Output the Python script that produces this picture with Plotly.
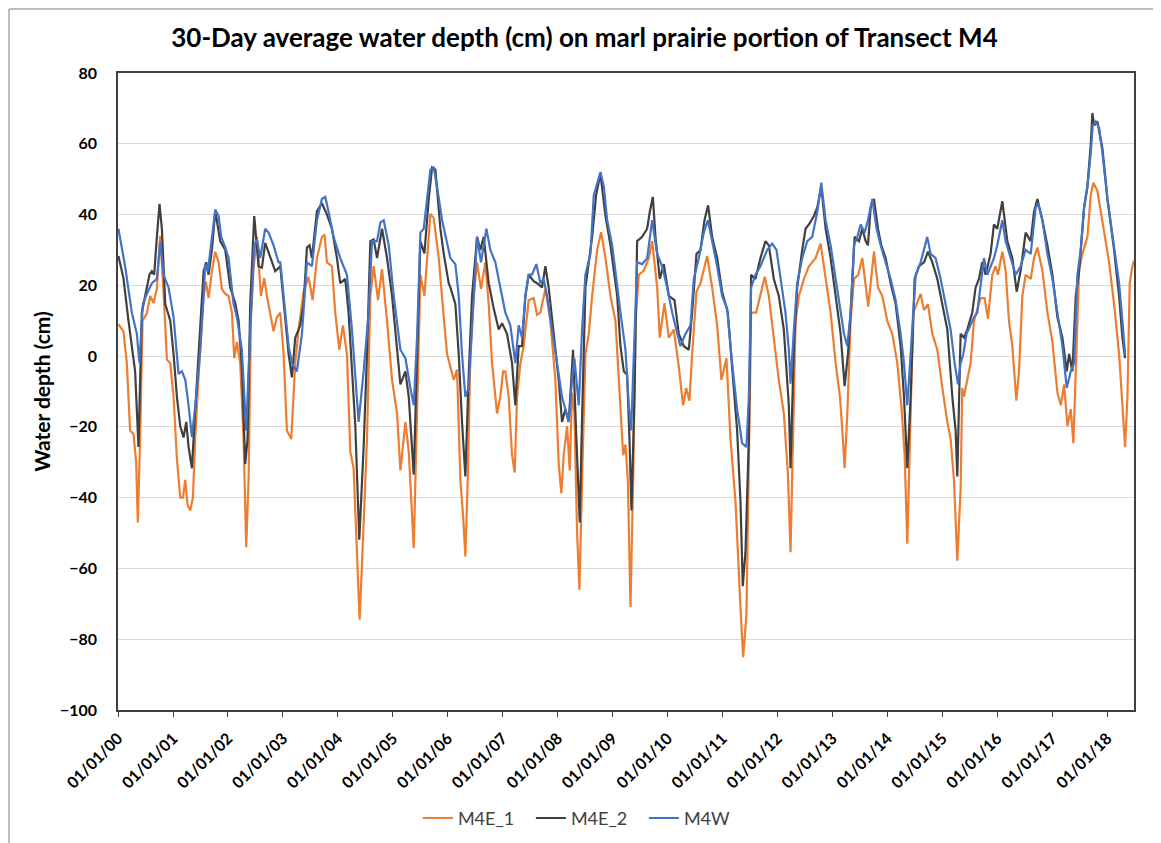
import pandas as pd
import plotly.graph_objects as go

# ---------------- data (decimal years since 2000, water depth in cm) ----------------
m4e1_t = [0.008, 0.099, 0.160, 0.220, 0.281, 0.330, 0.360, 0.402, 0.445, 0.524, 0.584, 0.645, 0.706, 0.767,
          0.827, 0.888, 0.949, 1.009, 1.070, 1.131, 1.179, 1.222, 1.264, 1.313, 1.361, 1.404, 1.465, 1.556,
          1.598, 1.647, 1.707, 1.768, 1.829, 1.889, 1.950, 2.011, 2.072, 2.114, 2.163, 2.223, 2.284, 2.332,
          2.375, 2.417, 2.466, 2.527, 2.600, 2.660, 2.709, 2.770, 2.830, 2.891,
          2.952, 3.013, 3.073, 3.152, 3.225, 3.286, 3.377, 3.468, 3.541, 3.620, 3.711, 3.759, 3.802, 3.893,
          3.953, 4.026, 4.093, 4.166, 4.227, 4.287, 4.348, 4.396, 4.439, 4.530, 4.591, 4.651, 4.730, 4.803,
          4.894, 4.985, 5.076, 5.137, 5.228, 5.289, 5.380, 5.440, 5.501, 5.574, 5.623, 5.683, 5.744, 5.835,
          5.926, 5.987,
          6.047, 6.108, 6.168, 6.229, 6.278, 6.320, 6.363, 6.411, 6.472, 6.533, 6.605, 6.684, 6.745, 6.806,
          6.897, 6.957, 7.006, 7.048, 7.109, 7.170, 7.218, 7.261, 7.322, 7.382, 7.473, 7.564, 7.625, 7.686,
          7.777, 7.868, 7.959, 8.020, 8.068, 8.111, 8.171, 8.220, 8.262, 8.305, 8.353, 8.396, 8.444, 8.505,
          8.566, 8.627, 8.718, 8.790, 8.869, 8.960, 9.051,
          9.142, 9.191, 9.233, 9.276, 9.324, 9.373, 9.415, 9.476, 9.567, 9.658, 9.719, 9.810, 9.858, 9.943,
          10.022, 10.113, 10.204, 10.283, 10.338, 10.398, 10.447, 10.526, 10.599, 10.720, 10.811, 10.902,
          10.981, 11.072, 11.145, 11.236, 11.327, 11.375, 11.436, 11.479, 11.521, 11.612, 11.691, 11.770,
          11.843, 11.934, 12.025, 12.116, 12.189,
          12.238, 12.287, 12.329, 12.390, 12.481, 12.572, 12.693, 12.784, 12.875, 12.966, 13.057, 13.136,
          13.179, 13.221, 13.270, 13.330, 13.391, 13.470, 13.543, 13.604, 13.652, 13.695, 13.755, 13.828,
          13.907, 13.998, 14.089, 14.180, 14.259, 14.314, 14.362, 14.411, 14.471, 14.532, 14.605, 14.666,
          14.739, 14.818, 14.909, 15.000, 15.091, 15.151, 15.212, 15.273,
          15.333, 15.363, 15.394, 15.454, 15.515, 15.576, 15.636, 15.697, 15.770, 15.831, 15.910, 15.970,
          16.013, 16.092, 16.152, 16.213, 16.274, 16.347, 16.395, 16.456, 16.516, 16.608, 16.668, 16.729,
          16.820, 16.911, 17.002, 17.093, 17.154, 17.215, 17.275, 17.336, 17.384, 17.427, 17.488, 17.548,
          17.639, 17.700, 17.749, 17.821, 17.913, 18.034, 18.125, 18.216, 18.277, 18.325, 18.368, 18.410,
          18.459, 18.489]
m4e1_v = [9, 7, -2, -21, -22, -30, -47, -23, 10, 12, 17, 15, 19, 34,
          18, -1, -2, -11.5, -29, -40, -40, -35, -42, -43.6, -40, -23, -5.5, 17,
          21, 16.4, 24, 29.5, 26.5, 19, 17.6, 17, 12.3, -0.6, 4, -2, -23.4, -54,
          -35, 10, 25, 33.7, 17, 22, 17, 12.3, 7, 11,
          12.3, 0.6, -21, -23.4, -2, 7.5, 18.2, 22.4, 15.8, 27.7, 33.7, 34.3, 26.5, 25.4,
          12.3, 1.8, 8.7, 0.6, -27, -31.7, -53, -74.5, -59, -23.4, 17, 25.4, 15.8, 24.6,
          9.9, -6.7, -16.2, -32.3, -18.6, -27, -54.3, -11.5, 23, 17, 28.9, 40.2, 39, 27.7,
          11, 0.6,
          -3, -6.7, -3.8, -35, -45, -56.6, -35, 0.6, 17, 26.5, 19, 26.5, 14.7, -2,
          -16.2, -11.5, -4.3, -4.3, -11.5, -28, -32.9, -11.5, -2, 2.8, 15.8, 16.4, 11.7, 12.3,
          19, 9.9, -6.7, -30.5, -38.8, -28, -19.8, -32.3, -10.3, -16.2, -49.5, -66, -35, 0.6,
          6.3, 17, 30, 35, 27.7, 17, 9.9,
          -14, -28, -25, -35, -70.9, -35, 9.9, 23, 24.2, 27.7, 32.5, 19.4, 5.2, 15,
          5.2, 7.5, -3, -13.9, -9, -12.6, 0.6, 18.2, 20.6, 28.3, 19.4, 8.7,
          -6.7, -0.6, -23.4, -41, -70.9, -85.1, -73, -35, 12.3, 12.3, 17, 22.4,
          17, 5.2, -6.7, -16.2, -32.9,
          -55.4, -23.4, 9.9, 17, 21.8, 25.4, 27.7, 31.8, 21.8, 12.3, -2, -11.5,
          -21, -31.7, -16.2, 9.9, 21.8, 23, 27.7, 19.4, 14, 20.6, 29.5, 19.4,
          17, 9.9, 6.3, -2, -15, -28, -53, -23.4, 12.3, 14.7, 17.6, 13,
          14.7, 6.3, 1.8, -9, -18.6, -23.4, -35, -57.8,
          -37.6, -9, -11.5, -6.7, -2, 9.9, 13.5, 16.4, 16.4, 10.5, 23, 25.4,
          23, 29.5, 24.2, 9.9, 2.8, -12.6, -4.3, 17, 23, 21.8, 27.7, 30.7,
          24.2, 12.3, 4.1, -10.3, -13.9, -8, -19.8, -15, -24.6, -6.7, 24.2, 28.9,
          33.7, 45.5, 49, 46.7, 38.4, 26.5, 14.7, 0.6, -13.9, -25.7, -11.5, 20.6,
          25.4, 27]

m4e2_t = [0.008, 0.099, 0.190, 0.251, 0.311, 0.372, 0.433, 0.493, 0.572, 0.615, 0.657, 0.706, 0.754, 0.797,
          0.858, 0.949, 1.009, 1.070, 1.131, 1.191, 1.240, 1.283, 1.343, 1.404, 1.465, 1.556, 1.604, 1.647,
          1.707, 1.768, 1.859, 1.950, 2.041, 2.132, 2.193, 2.253, 2.314, 2.357, 2.405, 2.478, 2.557, 2.618,
          2.678, 2.770, 2.861,
          2.952, 3.013, 3.104, 3.164, 3.225, 3.316, 3.377, 3.438, 3.486, 3.529, 3.620, 3.711, 3.802, 3.893,
          3.984, 4.044, 4.135, 4.196, 4.257, 4.318, 4.390, 4.469, 4.530, 4.591, 4.651, 4.712, 4.803, 4.894,
          4.985, 5.076, 5.137, 5.228, 5.289, 5.380, 5.440, 5.501, 5.574, 5.653, 5.714, 5.774, 5.865, 5.926,
          6.017,
          6.047, 6.138, 6.199, 6.259, 6.320, 6.381, 6.442, 6.533, 6.593, 6.654, 6.745, 6.836, 6.927, 6.988,
          7.079, 7.170, 7.230, 7.291, 7.352, 7.413, 7.473, 7.564, 7.625, 7.716, 7.777, 7.837, 7.929, 8.020,
          8.080, 8.141, 8.202, 8.280, 8.341, 8.402, 8.444, 8.505, 8.566, 8.627, 8.699, 8.778, 8.869, 8.960,
          9.082,
          9.142, 9.203, 9.263, 9.306, 9.342, 9.397, 9.445, 9.537, 9.628, 9.676, 9.731, 9.779, 9.858, 9.931,
          10.022, 10.125, 10.204, 10.295, 10.386, 10.447, 10.526, 10.599, 10.671, 10.738, 10.811, 10.902,
          10.993, 11.096, 11.175, 11.266, 11.327, 11.369, 11.418, 11.479, 11.521, 11.600, 11.691, 11.782,
          11.843, 11.934, 12.025, 12.116, 12.207,
          12.238, 12.299, 12.359, 12.450, 12.511, 12.572, 12.663, 12.724, 12.796, 12.875, 12.966, 13.057,
          13.148, 13.221, 13.282, 13.330, 13.403, 13.482, 13.543, 13.604, 13.646, 13.695, 13.755, 13.828,
          13.889, 13.968, 14.059, 14.150, 14.241, 14.302, 14.362, 14.423, 14.496, 14.575, 14.666, 14.739,
          14.818, 14.909, 15.000, 15.091, 15.182, 15.242, 15.273, 15.303,
          15.333, 15.394, 15.454, 15.545, 15.606, 15.667, 15.727, 15.788, 15.879, 15.940, 16.001, 16.092,
          16.183, 16.274, 16.353, 16.425, 16.516, 16.608, 16.668, 16.729, 16.820, 16.911, 17.002, 17.093,
          17.184, 17.263, 17.306, 17.366, 17.427, 17.488, 17.579, 17.639, 17.700, 17.730, 17.761, 17.821,
          17.913, 18.004, 18.125, 18.216, 18.277, 18.325]
m4e2_v = [28.3, 22, 10, 2, -4.3, -25.7, 12.3, 17, 23, 24, 23, 33.7, 43, 36,
          14.7, 10, 0.6, -11.5, -19.8, -23, -18.6, -25.7, -31.7, -15, 0.6, 24, 26.5, 23,
          30, 41, 32.5, 30, 19.4, 15, 10, -3, -30.5, -23.4, 14.7, 39.6, 25.4, 25,
          32, 28, 24,
          25.4, 15.8, 0.6, -6, 5.2, 8.7, 14.7, 30.7, 31.3, 27.7, 41, 43.2, 40, 36,
          27.7, 20.6, 21.8, 12.3, -4.3, -19.8, -51.9, -25.7, 0.6, 32.5, 33, 27.7, 36, 27.7,
          17, 2.8, -8, -4.3, -11.5, -33.5, 0.6, 32.5, 29, 44.4, 53.3, 52.7, 36, 28.9,
          20.6,
          19.4, 14.7, 0.6, -18.6, -34, -5.3, 17, 33.7, 30, 33.7, 20.6, 13.5, 7.5, 9.3,
          6.3, -2, -13.9, 2.8, 2.8, 17, 23, 21.2, 20.6, 19.4, 25.4, 19.4, 6.3, -6.7,
          -18.6, -15, -18.6, 1.8, -23.4, -47, -17.3, 19.4, 26.5, 33.7, 45.5, 51.5, 39.6, 31.3,
          17,
          2.8, -4.3, -5.3, -23.4, -43.6, -11.5, 32.5, 33.7, 36, 40.8, 45, 33.7, 21.8, 26,
          17, 15.8, 6.3, 2.8, 1.8, 12.3, 28.9, 30, 38.4, 42.6, 33.7, 27.7,
          18.2, 12.3, -3, -21, -41, -65, -55.4, -23.4, 23, 21.8, 27.7, 32.5,
          31.3, 21.8, 17, 7.5, -13.9,
          -31.7, 2.8, 19.4, 30, 36, 37.2, 39.6, 42, 47.9, 36, 27.7, 17,
          6.3, -8.5, 0.6, 12.3, 33.7, 32.5, 36, 32.5, 31.3, 42, 44.4, 36,
          31.3, 27.7, 20.6, 14.7, 2.8, -11.5, -31.7, -11.5, 21.8, 25.4, 26.5, 29.5,
          26.5, 21.8, 14.7, 7.5, -11.5, -21, -34, -11.5,
          6.3, 5.2, 7.5, 12.3, 19.4, 21.8, 26.5, 23, 28.9, 37.2, 36, 43.8,
          32.5, 27.7, 18.2, 24.2, 34.9, 32.5, 40.8, 44.4, 38.4, 31.3, 23, 11,
          5.2, -4.3, 0.6, -4.3, 17, 24.2, 42, 47.9, 59.8, 68.7, 65.2, 66.3,
          58.6, 44.4, 30, 17, 5.2, -0.6]

m4w_t = [0.008, 0.129, 0.251, 0.342, 0.390, 0.451, 0.524, 0.615, 0.706, 0.767, 0.827, 0.918, 1.009, 1.100,
         1.161, 1.222, 1.283, 1.343, 1.422, 1.495, 1.556, 1.586, 1.635, 1.707, 1.768, 1.829, 1.877, 1.950,
         2.011, 2.102, 2.163, 2.253, 2.332, 2.405, 2.478, 2.527, 2.587, 2.678, 2.739, 2.830, 2.921,
         2.952, 3.013, 3.104, 3.164, 3.255, 3.347, 3.438, 3.529, 3.620, 3.711, 3.771, 3.832, 3.923, 4.044,
         4.166, 4.257, 4.378, 4.469, 4.560, 4.621, 4.712, 4.773, 4.834, 4.925, 5.016, 5.137, 5.228, 5.319,
         5.380, 5.440, 5.501, 5.562, 5.623, 5.683, 5.744, 5.805, 5.896, 5.987,
         6.047, 6.138, 6.199, 6.259, 6.320, 6.381, 6.442, 6.533, 6.605, 6.703, 6.775, 6.866, 6.957, 7.048,
         7.139, 7.230, 7.291, 7.352, 7.413, 7.473, 7.534, 7.613, 7.686, 7.746, 7.807, 7.898, 7.989, 8.080,
         8.141, 8.202, 8.262, 8.305, 8.384, 8.444, 8.505, 8.596, 8.657, 8.718, 8.778, 8.839, 8.900, 8.991,
         9.082,
         9.142, 9.233, 9.294, 9.336, 9.385, 9.445, 9.537, 9.628, 9.719, 9.810, 9.901, 9.992, 10.083, 10.174,
         10.234, 10.326, 10.417, 10.477, 10.568, 10.659, 10.732, 10.811, 10.902, 10.993, 11.084, 11.175,
         11.266, 11.357, 11.436, 11.479, 11.521, 11.600, 11.691, 11.813, 11.904, 11.983, 12.055, 12.146,
         12.207,
         12.238, 12.299, 12.359, 12.450, 12.541, 12.632, 12.724, 12.796, 12.875, 12.966, 13.057, 13.148,
         13.209, 13.270, 13.330, 13.391, 13.452, 13.513, 13.585, 13.646, 13.725, 13.804, 13.877, 13.968,
         14.059, 14.150, 14.241, 14.302, 14.362, 14.423, 14.514, 14.605, 14.696, 14.726, 14.787, 14.878,
         14.969, 15.060, 15.151, 15.224, 15.285,
         15.333, 15.382, 15.442, 15.515, 15.576, 15.636, 15.697, 15.758, 15.819, 15.879, 15.940, 16.001,
         16.092, 16.152, 16.243, 16.334, 16.425, 16.516, 16.608, 16.699, 16.741, 16.820, 16.911, 17.002,
         17.093, 17.184, 17.263, 17.336, 17.397, 17.457, 17.518, 17.579, 17.639, 17.700, 17.736, 17.791,
         17.852, 17.913, 18.004, 18.125, 18.216, 18.277, 18.325]
m4w_v = [36, 25.4, 12.3, 6.3, -2, 14.7, 17.6, 20.6, 21.8, 32.5, 23, 19.4, 11, -5,
         -4.3, -6.7, -14, -22.8, -11.5, 1.8, 17, 26, 24, 33.7, 41.4, 39.6, 33.7, 30.7,
         27.7, 14.7, 11, 1.8, -21, 7.5, 31.3, 33, 27.7, 36, 34.9, 31.3, 26.5,
         26.5, 17, 2.8, -2, -4.3, 6.3, 26.5, 25.4, 38.4, 44.4, 45, 40.8, 33.7, 27.7,
         23, 7.5, -18.6, -4.3, 12.3, 32.5, 32.5, 37.8, 38.4, 31.3, 17, 1.8, -0.6, -9,
         -13.9, 5.2, 34.9, 36, 44.4, 52.7, 53.3, 47.9, 38.4, 31.3,
         27.7, 26, 17, 0.6, -11.5, -9, 7.5, 33.7, 26.5, 36, 30, 26.5, 19.4, 12.3,
         8.7, -2, 8.7, 5.2, 17, 23, 23, 26, 20.6, 21.8, 17, 7.5, -3, -11.5,
         -15, -18.6, -6.7, -0.6, -13.9, 7.5, 23, 28.9, 45.5, 49, 52, 47.9, 38.4, 31.3,
         19.4,
         12.3, 1.8, -13.9, -21, 0.6, 26.5, 26, 27.7, 38.4, 28.9, 25.4, 19.4, 12.3, 6.3,
         2.8, 6.3, 8.7, 21.8, 27.7, 34.9, 38.4, 32.5, 25.4, 17, 13.5, -2,
         -15, -24.6, -25.7, -11.5, 19.4, 23, 25.4, 30, 31.8, 30, 21.8, 12.3,
         1.8,
         -7.8, 7.5, 20.6, 27.7, 32.5, 33.7, 40.8, 49, 38.4, 31.3, 21.8, 12.3,
         6.3, 2.8, 12.3, 31.3, 33.7, 37.2, 34.9, 38.4, 44.4, 36, 31.3, 26.5,
         21.8, 15.8, 6.3, -2, -13.9, 0.6, 23, 26.5, 32.5, 33.7, 28.9, 27.7,
         21.8, 14.7, 7.5, -2, -8,
         -2, 0.6, 6.3, 8.7, 11, 12.3, 20.6, 27.7, 23, 25.4, 27.7, 31.3,
         38.4, 32.5, 27.7, 23, 25.4, 30, 28.9, 42, 43.2, 38.4, 28.9, 21.8,
         12.3, 2.8, -9, -4.3, -2, 23, 30, 42, 47.9, 57.4, 65.2, 66.3,
         64.6, 57.4, 44.4, 30, 20.6, 9.9, 0.6]

series_names = ["M4E_1", "M4E_2", "M4W"]
series_colors = ["#ED7D31", "#404040", "#4472C4"]
y_ticks = [-100, -80, -60, -40, -20, 0, 20, 40, 60, 80]
x_tick_years = list(range(2000, 2019))

FONT = "Lato, 'Open Sans', sans-serif"


def to_dates(offsets, base=2000):
    out = []
    for t in offsets:
        yr = base + int(t)
        start = pd.Timestamp(year=yr, month=1, day=1)
        days = (pd.Timestamp(year=yr + 1, month=1, day=1) - start).days
        out.append(start + pd.Timedelta(days=(t - int(t)) * days))
    return out


fig = go.Figure()
for name, color, t, v in zip(series_names, series_colors,
                             [m4e1_t, m4e2_t, m4w_t], [m4e1_v, m4e2_v, m4w_v]):
    fig.add_trace(go.Scatter(x=to_dates(t), y=v, mode="lines", name=name,
                             line=dict(color=color, width=2.2)))

tickvals = [pd.Timestamp(year=y, month=1, day=1) for y in x_tick_years]

# page body has an 8px margin, so the figure is sized/offset to compensate
fig.update_layout(
    width=1153, height=835,
    paper_bgcolor="white", plot_bgcolor="white",
    margin=dict(l=110, r=27, t=65, b=133, autoexpand=False),
    title=dict(text="<b>30-Day average water depth (cm) on marl prairie portion of Transect M4</b>",
               x=0.5, xanchor="center", y=0.9645, yanchor="middle",
               font=dict(family=FONT, size=26, color="#000000")),
    font=dict(family=FONT, color="#000000"),
    showlegend=True,
    legend=dict(orientation="h", x=0.462, xanchor="center", y=-0.170, yanchor="middle",
                font=dict(size=18, color="#404040"), itemwidth=30,
                entrywidth=68, entrywidthmode="pixels", tracegroupgap=0),
    xaxis=dict(
        type="date", automargin=False,
        range=[pd.Timestamp("2000-01-01"), pd.Timestamp("2018-06-28")],
        tickvals=tickvals, tickformat="%m/%d/%y", tickangle=-45,
        tickfont=dict(size=16, family=FONT, weight="bold"),
        ticks="outside", ticklen=5, tickcolor="#404040", ticklabelstandoff=6,
        showgrid=False, showline=True, linecolor="#404040", linewidth=1.5, mirror=True,
        zeroline=False,
    ),
    yaxis=dict(
        range=[-100, 80], tickvals=y_ticks, automargin=False,
        tickfont=dict(size=16, family=FONT, weight="bold"),
        showgrid=True, gridcolor="#d9d9d9", gridwidth=1,
        showline=True, linecolor="#404040", linewidth=1.5, mirror=True,
        zeroline=False, ticks="", ticklabelstandoff=16,
        title=dict(text="<b>Water depth (cm)</b>", font=dict(size=21), standoff=4),
    ),
    shapes=[
        dict(type="line", xref="paper", yref="paper", x0=-0.1073, x1=1.03, y0=1.1005, y1=1.1005,
             line=dict(color="#a6a6a6", width=1.5)),
        dict(type="line", xref="paper", yref="paper", x0=-0.1073, x1=-0.1073, y0=-0.21, y1=1.1005,
             line=dict(color="#a6a6a6", width=1.5)),
    ],
)

fig.write_html("out.html")
